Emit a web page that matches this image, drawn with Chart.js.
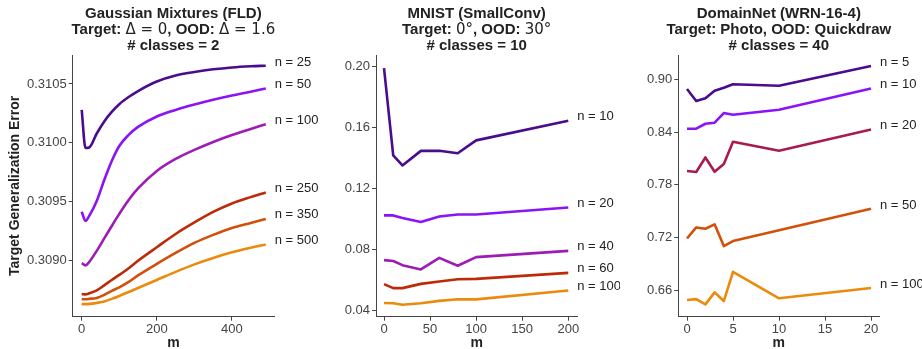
<!DOCTYPE html>
<html lang="en">
<head>
<meta charset="UTF-8">
<title>Target generalization error vs m</title>
<script src="https://cdn.jsdelivr.net/npm/chart.js"></script>
<style>
  body { margin: 0; background: #fff; }
  #wrap { position: relative; width: 922px; height: 349px; overflow: hidden; }
  canvas { position: absolute; top: 0; }
</style>
</head>
<body>
<div id="wrap">
  <canvas id="gmm" width="320" height="349" style="left:0"></canvas>
  <canvas id="mnist" width="320" height="349" style="left:300px"></canvas>
  <canvas id="dnet" width="312" height="349" style="left:610px"></canvas>
</div>
<script>
// ---- Gaussian Mixtures (FLD) ----
const gmmM = [0, 10, 20, 40, 60, 80, 100, 125, 150, 200, 250, 300, 350, 400, 450, 490];
const gmmN = [25, 50, 100, 250, 350, 500];
const gmmErr25  = [0.310279, 0.309955, 0.309959, 0.310078, 0.310181, 0.310262, 0.310328, 0.310389, 0.310440, 0.310521, 0.310572, 0.310602, 0.310625, 0.310641, 0.310651, 0.310656];
const gmmErr50  = [0.309412, 0.309333, 0.309376, 0.309503, 0.309682, 0.309844, 0.309972, 0.310066, 0.310134, 0.310223, 0.310279, 0.310325, 0.310366, 0.310402, 0.310434, 0.310462];
const gmmErr100 = [0.308973, 0.308954, 0.308984, 0.309078, 0.309184, 0.309290, 0.309393, 0.309512, 0.309610, 0.309759, 0.309861, 0.309938, 0.310006, 0.310066, 0.310117, 0.310157];
const gmmErr250 = [0.308709, 0.308707, 0.308716, 0.308741, 0.308784, 0.308830, 0.308873, 0.308930, 0.308994, 0.309109, 0.309222, 0.309320, 0.309410, 0.309482, 0.309536, 0.309576];
const gmmErr350 = [0.308666, 0.308666, 0.308669, 0.308677, 0.308703, 0.308737, 0.308767, 0.308813, 0.308869, 0.308967, 0.309060, 0.309146, 0.309214, 0.309273, 0.309316, 0.309350];
const gmmErr500 = [0.308624, 0.308624, 0.308626, 0.308635, 0.308647, 0.308669, 0.308694, 0.308728, 0.308762, 0.308830, 0.308899, 0.308963, 0.309018, 0.309066, 0.309105, 0.309133];
const gmmLabelY = [0.310681, 0.310500, 0.310193, 0.309612, 0.309390, 0.309171];
const gmmYTicks = [0.3090, 0.3095, 0.3100, 0.3105];
const gmmXTicks = [0, 200, 400];

// ---- MNIST (SmallConv) ----
const mnistM = [0, 10, 20, 40, 60, 80, 100, 200];
const mnistN = [10, 20, 40, 60, 100];
const mnistErr10  = [0.1990, 0.1416, 0.1350, 0.1446, 0.1447, 0.1430, 0.1515, 0.1644];
const mnistErr20  = [0.1022, 0.1022, 0.1005, 0.0979, 0.1015, 0.1028, 0.1028, 0.1074];
const mnistErr40  = [0.0728, 0.0722, 0.0695, 0.0667, 0.0743, 0.0691, 0.0748, 0.0789];
const mnistErr60  = [0.0570, 0.0544, 0.0544, 0.0572, 0.0587, 0.0602, 0.0605, 0.0644];
const mnistErr100 = [0.0446, 0.0445, 0.0435, 0.0445, 0.0460, 0.0471, 0.0470, 0.0528];
const mnistLabelY = [0.1673, 0.1101, 0.0820, 0.0676, 0.0557];
const mnistYTicks = [0.04, 0.08, 0.12, 0.16, 0.20];
const mnistXTicks = [0, 50, 100, 150, 200];

// ---- DomainNet (WRN-16-4) ----
const dnetM = [0, 1, 2, 3, 4, 5, 10, 20];
const dnetN = [5, 10, 20, 50, 100];
const dnetErr5   = [0.8890, 0.8753, 0.8784, 0.8870, 0.8904, 0.8943, 0.8927, 0.9151];
const dnetErr10  = [0.8438, 0.8438, 0.8494, 0.8506, 0.8616, 0.8597, 0.8654, 0.8896];
const dnetErr20  = [0.7956, 0.7945, 0.8111, 0.7948, 0.8036, 0.8290, 0.8187, 0.8430];
const dnetErr50  = [0.7189, 0.7315, 0.7300, 0.7350, 0.7103, 0.7160, 0.7283, 0.7527];
const dnetErr100 = [0.6490, 0.6500, 0.6440, 0.6577, 0.6478, 0.6810, 0.6509, 0.6626];
const dnetLabelY = [0.9188, 0.8946, 0.8471, 0.7570, 0.6672];
const dnetYTicks = [0.66, 0.72, 0.78, 0.84, 0.90];
const dnetXTicks = [0, 5, 10, 15, 20];

const SANS = '"Liberation Sans", Arial, sans-serif';
const MATH = '"DejaVu Sans", sans-serif';
const INK = '#222';
const AXIS = '#444';

// three-line bold heading; segments flagged true are set in the math font
const titlePlugin = {
  id: 'panelTitle',
  afterDraw(chart, args, opts) {
    const { ctx, chartArea } = chart;
    const cx = (chartArea.left + chartArea.right) / 2;
    ctx.save();
    ctx.fillStyle = INK;
    ctx.textBaseline = 'alphabetic';
    opts.lines.forEach((segs, i) => {
      const parts = segs.map(([text, math]) => {
        const font = math ? '15px ' + MATH : 'bold 15px ' + SANS;
        ctx.font = font;
        return { text, font, w: ctx.measureText(text).width };
      });
      let x = cx - parts.reduce((a, p) => a + p.w, 0) / 2;
      parts.forEach(p => {
        ctx.font = p.font;
        ctx.textAlign = 'left';
        ctx.fillText(p.text, x, opts.baselines[i]);
        x += p.w;
      });
    });
    ctx.restore();
  }
};

// "n = ..." tags to the right of each line end
const endLabels = {
  id: 'endLabels',
  afterDatasetsDraw(chart) {
    const { ctx, scales } = chart;
    ctx.save();
    ctx.font = '13px ' + SANS;
    ctx.fillStyle = INK;
    ctx.textAlign = 'left';
    ctx.textBaseline = 'middle';
    chart.data.datasets.forEach(ds => {
      const last = ds.data[ds.data.length - 1];
      const x = scales.x.getPixelForValue(last.x) + 9;
      const y = scales.y.getPixelForValue(ds.labelY);
      ctx.fillText(ds.label, x, y);
    });
    ctx.restore();
  }
};

function makeChart(id, cfg) {
  const datasets = cfg.series.map((ys, i) => ({
    label: 'n = ' + cfg.n[i],
    data: cfg.x.map((x, j) => ({ x, y: ys[j] })),
    borderColor: cfg.colors[i],
    borderWidth: 2.6,
    pointRadius: 0,
    tension: 0,
    cubicInterpolationMode: cfg.smooth ? 'monotone' : 'default',
    borderJoinStyle: 'round',
    labelY: cfg.labelY[i]
  }));

  const tickFont = { family: SANS, size: 13 };
  const grid = { drawOnChartArea: false, drawTicks: true, tickLength: 4, color: AXIS };
  const border = { color: AXIS, width: 1 };

  return new Chart(document.getElementById(id), {
    type: 'line',
    data: { datasets },
    options: {
      responsive: false,
      animation: false,
      events: [],
      layout: { padding: { top: 55, right: cfg.padRight, bottom: 0, left: 0 } },
      plugins: {
        legend: { display: false },
        tooltip: { enabled: false },
        panelTitle: { lines: cfg.title, baselines: [17.5, 33.8, 50] }
      },
      scales: {
        x: {
          type: 'linear',
          min: cfg.xMin,
          max: cfg.xMax,
          afterBuildTicks: s => { s.ticks = cfg.xTicks.map(v => ({ value: v })); },
          afterFit: s => { s.height = 32.3; },
          ticks: { font: tickFont, color: AXIS, padding: 1, maxRotation: 0, callback: v => String(v) },
          grid, border,
          title: { display: true, text: 'm', color: INK, padding: 0,
                   font: { family: SANS, size: 14, weight: 'bold', lineHeight: 0.85 } }
        },
        y: {
          type: 'linear',
          min: cfg.yMin,
          max: cfg.yMax,
          afterBuildTicks: s => { s.ticks = cfg.yTicks.map(v => ({ value: v })); },
          afterFit: s => { s.width = cfg.yAxisW; },
          ticks: { font: tickFont, color: AXIS, padding: 2, callback: v => v.toFixed(cfg.yDigits) },
          grid, border,
          title: { display: !!cfg.yTitle, text: cfg.yTitle || '', color: INK, padding: { top: 7 },
                   font: { family: SANS, size: 14, weight: 'bold' } }
        }
      }
    },
    plugins: [titlePlugin, endLabels]
  });
}

makeChart('gmm', {
  x: gmmM, n: gmmN,
  series: [gmmErr25, gmmErr50, gmmErr100, gmmErr250, gmmErr350, gmmErr500],
  colors: ['#4A0C8C', '#8A14F5', '#9E1BB5', '#BD2A08', '#D2500A', '#EB8A0C'],
  labelY: gmmLabelY, smooth: true,
  xMin: -24, xMax: 512, xTicks: gmmXTicks,
  yMin: 0.308517, yMax: 0.310747, yTicks: gmmYTicks, yDigits: 4,
  yAxisW: 72.7, padRight: 46,
  yTitle: 'Target Generalization Error',
  title: [
    [['Gaussian Mixtures (FLD)', false]],
    [['Target: ', false], ['\u0394 = 0', true], [', OOD: ', false], ['\u0394 = 1.6', true]],
    [['# classes = 2', false]]
  ]
});

makeChart('mnist', {
  x: mnistM, n: mnistN,
  series: [mnistErr10, mnistErr20, mnistErr40, mnistErr60, mnistErr100],
  colors: ['#4A0C8C', '#8A14F5', '#9E1BB5', '#BD2A08', '#EB8A0C'],
  labelY: mnistLabelY, smooth: false,
  xMin: -8.7, xMax: 209.8, xTicks: mnistXTicks,
  yMin: 0.03562, yMax: 0.2076, yTicks: mnistYTicks, yDigits: 2,
  yAxisW: 76, padRight: 42.7,
  title: [
    [['MNIST (SmallConv)', false]],
    [['Target: ', false], ['0\u00b0', true], [', OOD: ', false], ['30\u00b0', true]],
    [['# classes = 10', false]]
  ]
});

makeChart('dnet', {
  x: dnetM, n: dnetN,
  series: [dnetErr5, dnetErr10, dnetErr20, dnetErr50, dnetErr100],
  colors: ['#4A0C8C', '#8A14F5', '#A81B50', '#D2500A', '#EB8A0C'],
  labelY: dnetLabelY, smooth: false,
  xMin: -0.946, xMax: 20.9, xTicks: dnetXTicks,
  yMin: 0.630, yMax: 0.9276, yTicks: dnetYTicks, yDigits: 2,
  yAxisW: 68.3, padRight: 42.7,
  title: [
    [['DomainNet (WRN-16-4)', false]],
    [['Target: Photo, OOD: Quickdraw', false]],
    [['# classes = 40', false]]
  ]
});
</script>
</body>
</html>
